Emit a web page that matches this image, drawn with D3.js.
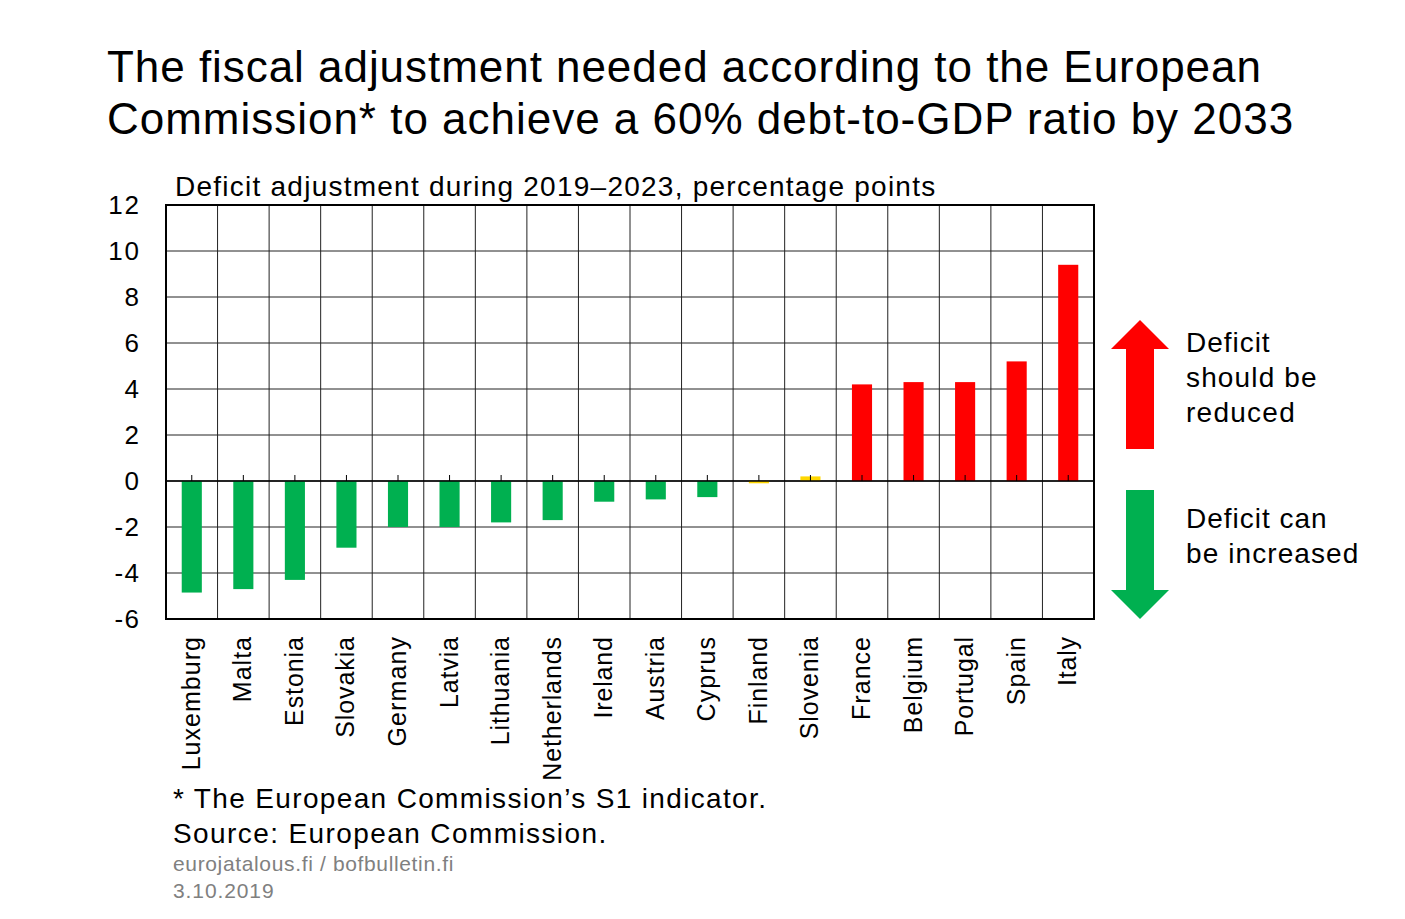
<!DOCTYPE html>
<html><head><meta charset="utf-8">
<script src="https://cdn.jsdelivr.net/npm/d3@7"></script>
<style>body{margin:0;background:#fff;}svg{display:block;font-family:"Liberation Sans",Arial,sans-serif;}</style>
</head><body>
<svg id="c" width="1405" height="919"></svg>
<script>
const countries = ["Luxemburg","Malta","Estonia","Slovakia","Germany","Latvia","Lithuania","Netherlands","Ireland","Austria","Cyprus","Finland","Slovenia","France","Belgium","Portugal","Spain","Italy"];
const values = [-4.85,-4.7,-4.3,-2.9,-2.0,-2.0,-1.8,-1.7,-0.9,-0.8,-0.7,-0.1,0.2,4.2,4.3,4.3,5.2,9.4];
const groups = ["inc","inc","inc","inc","inc","inc","inc","inc","inc","inc","inc","neutral","neutral","red","red","red","red","red"];
const yTicks = [-6,-4,-2,0,2,4,6,8,10,12];
const colors = {inc:"#00B050", neutral:"#FFD700", red:"#FF0000"};

const svg = d3.select("#c");
const L=166, R=1094, T=205, B=619;
const x = d3.scaleBand().domain(countries).range([L,R]).paddingInner(0).paddingOuter(0);
const y = d3.scaleLinear().domain([-6,12]).range([B,T]);

function widen(sel, f){
  sel.each(function(){
    const w = this.getComputedTextLength();
    d3.select(this).attr("textLength", w*f).attr("lengthAdjust","spacing");
  });
  return sel;
}

// title
widen(svg.append("text").attr("x",107).attr("y",82).attr("font-size",44).text("The fiscal adjustment needed according to the European"),1.046);
widen(svg.append("text").attr("x",107).attr("y",134).attr("font-size",44).text("Commission* to achieve a 60% debt-to-GDP ratio by 2033"),1.046);
widen(svg.append("text").attr("x",175).attr("y",196).attr("font-size",28).text("Deficit adjustment during 2019\u20132023, percentage points"),1.095);

// gridlines
svg.append("g").selectAll("line").data(yTicks).join("line")
  .attr("x1",L).attr("x2",R).attr("y1",d=>y(d)).attr("y2",d=>y(d))
  .attr("stroke","#222").attr("stroke-width",1);
svg.append("g").selectAll("line").data(countries.slice(1)).join("line")
  .attr("x1",d=>x(d)).attr("x2",d=>x(d)).attr("y1",T).attr("y2",B)
  .attr("stroke","#222").attr("stroke-width",1);

// bars
const bw = x.bandwidth()*0.39;
svg.append("g").selectAll("rect").data(values).join("rect")
  .attr("x",(d,i)=>x(countries[i])+x.bandwidth()/2-bw/2)
  .attr("width",bw)
  .attr("y",d=>y(Math.max(0,d)))
  .attr("height",d=>Math.max(Math.abs(y(d)-y(0)),2))
  .attr("fill",(d,i)=>colors[groups[i]]);

// zero axis + ticks
svg.append("line").attr("x1",L).attr("x2",R).attr("y1",y(0)).attr("y2",y(0)).attr("stroke","#000").attr("stroke-width",1.5);
svg.append("g").selectAll("line").data(countries).join("line")
  .attr("x1",d=>x(d)+x.bandwidth()/2).attr("x2",d=>x(d)+x.bandwidth()/2)
  .attr("y1",y(0)-6).attr("y2",y(0)).attr("stroke","#000").attr("stroke-width",1);

// frame
svg.append("rect").attr("x",L).attr("y",T).attr("width",R-L).attr("height",B-T)
  .attr("fill","none").attr("stroke","#000").attr("stroke-width",2);

// y axis labels
widen(svg.append("g").selectAll("text").data(yTicks).join("text")
  .attr("x",139).attr("y",d=>y(d)).attr("dy","0.35em").attr("text-anchor","end")
  .attr("font-size",26).text(d=>d),1.06);

// x labels
widen(svg.append("g").selectAll("text").data(countries).join("text")
  .attr("transform",d=>`translate(${x(d)+x.bandwidth()/2+8},${B+18}) rotate(-90)`)
  .attr("text-anchor","end").attr("font-size",25).text(d=>d),1.066);

// arrows
const ax=1140;
svg.append("path").attr("fill","#FF0000")
  .attr("d",`M${ax},320 L1169,349 L1154,349 L1154,449 L1126,449 L1126,349 L1111,349 Z`);
svg.append("path").attr("fill","#00B050")
  .attr("d",`M${ax},619 L1169,590 L1154,590 L1154,490 L1126,490 L1126,590 L1111,590 Z`);
const lg1=["Deficit","should be","reduced"], lg2=["Deficit can","be increased"];
widen(svg.append("g").selectAll("text").data(lg1).join("text").attr("x",1186).attr("y",(d,i)=>352+i*35).attr("font-size",28).text(d=>d),1.075);
widen(svg.append("g").selectAll("text").data(lg2).join("text").attr("x",1186).attr("y",(d,i)=>528+i*35).attr("font-size",28).text(d=>d),1.075);

// footer
widen(svg.append("text").attr("x",173).attr("y",808).attr("font-size",28).text("* The European Commission\u2019s S1 indicator."),1.10);
widen(svg.append("text").attr("x",173).attr("y",843).attr("font-size",28).text("Source: European Commission."),1.096);
widen(svg.append("text").attr("x",173).attr("y",871).attr("font-size",21).attr("fill","#808080").text("eurojatalous.fi / bofbulletin.fi"),1.077);
widen(svg.append("text").attr("x",173).attr("y",898).attr("font-size",21).attr("fill","#808080").text("3.10.2019"),1.077);
</script>
</body></html>
